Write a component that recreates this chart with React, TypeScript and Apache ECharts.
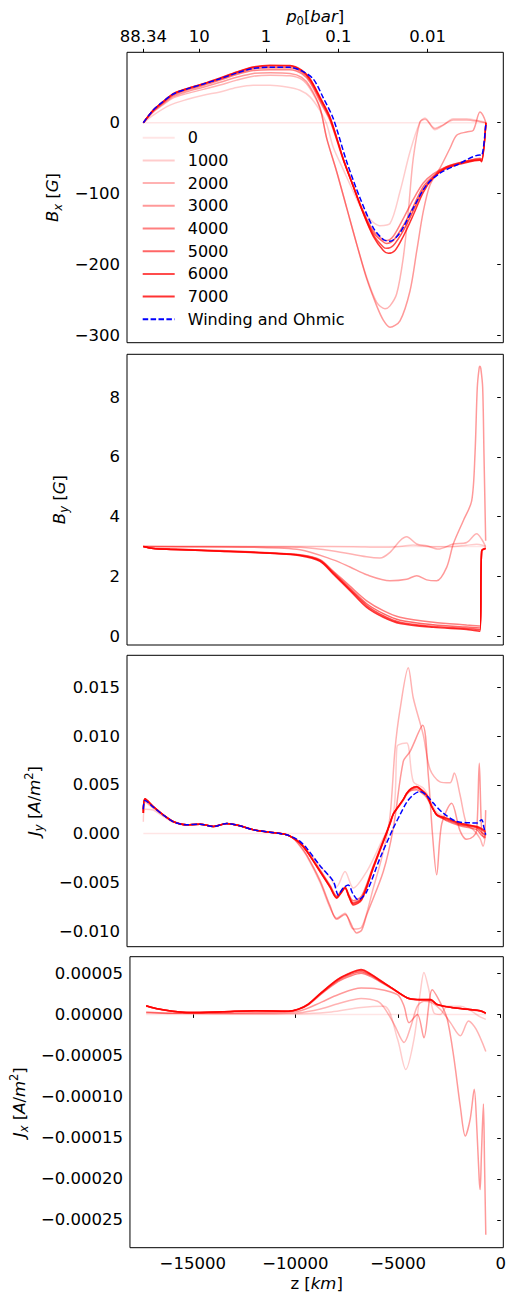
import React, { useEffect, useRef } from 'react';
import * as echarts from 'echarts';

const FONT = 'DejaVu Sans';
const FS = 16.5;

const RUNS = ['0', '1000', '2000', '3000', '4000', '5000', '6000', '7000'];
const RUN_ALPHA = [0.1, 0.2, 0.3, 0.4, 0.5, 0.6, 0.7, 0.8];
const OHMIC = 'Winding and Ohmic';

const X_MIN = -18060;
const X_MAX = 125;
const X_TICKS = [-15000, -10000, -5000, 0];
const P_TICK_Z = [-17270, -14565, -11342, -7849, -3529];
const P_TICK_LABELS = ['88.34', '10', '1', '0.1', '0.01'];

const Y1_TICKS = [-300, -200, -100, 0];
const Y2_TICKS = [0, 2, 4, 6, 8];
const Y3_TICKS = [-0.01, -0.005, 0, 0.005, 0.01, 0.015];
const Y4_TICKS = [-0.00025, -0.0002, -0.00015, -0.0001, -0.00005, 0, 0.00005];

// ---------- Panel 1: B_x [G] ----------
const BX_0 = [[-17270, 0], [-715, 0]];
const BX_1000 = [[-17270, 0], [-16788, 10.8], [-15981, 24.8], [-15174, 32.7], [-14372, 38.7], [-13565, 43.4], [-12758, 49.5], [-11956, 52.7], [-11149, 52.7], [-10342, 50.3], [-9700, 45.7], [-9216, 36.4], [-8733, 17], [-8409, -2], [-8090, -35], [-7607, -66], [-7124, -97], [-6641, -125], [-5834, -145], [-5351, -142], [-4867, -97], [-4384, -41], [-3901, 1], [-3660, 6.6], [-3177, -10], [-2777, -3.6], [-2292, 5.6], [-1645, 5.6], [-1002, 2.4], [-715, 0]];
const BX_2000 = [[-17270, 0], [-16788, 15], [-16305, 25.5], [-15821, 35], [-15174, 41], [-14372, 47], [-13565, 53], [-12758, 60], [-11956, 65.5], [-11149, 67], [-10182, 66], [-9617, 61], [-9216, 48], [-8733, 20], [-8409, -22], [-7926, -69], [-7443, -120], [-6960, -171], [-6476, -218], [-5993, -253], [-5592, -262], [-5351, -258], [-5027, -241], [-4708, -190], [-4466, -125], [-4225, -50], [-3901, 1], [-3660, 5], [-3177, -8], [-2777, -3], [-2292, 4], [-1645, 4], [-1002, 1.5], [-715, 0]];
const BX_3000 = [[-17270, 0], [-16788, 16], [-16305, 27], [-15821, 37], [-15174, 43.5], [-14372, 50], [-13565, 57], [-12758, 64], [-11956, 69.5], [-11149, 70.5], [-10182, 69.5], [-9617, 64], [-9216, 51], [-8733, 21], [-8409, -22], [-7926, -69], [-7443, -120], [-6960, -171], [-6476, -220], [-5993, -258], [-5674, -278], [-5351, -288], [-4867, -279], [-4384, -237], [-4060, -181], [-3742, -125], [-3418, -87.6], [-2936, -64], [-2451, -36], [-2128, -17.6], [-1645, -13], [-1325, -10.7], [-1002, 15], [-850, 10], [-715, 0]];
const BX_4000 = [[-17270, 0], [-16788, 17], [-16305, 28.5], [-15821, 39], [-15174, 46], [-14372, 52.5], [-13565, 60], [-12758, 68], [-11956, 73.5], [-11149, 74.7], [-10182, 74.5], [-9617, 69], [-9216, 57], [-8733, 30], [-8250, 3], [-7607, -53], [-7124, -90], [-6641, -125], [-6158, -152], [-5674, -165], [-5510, -166], [-5192, -160], [-4708, -135], [-4225, -108], [-3742, -85], [-3259, -72], [-2612, -62], [-1645, -54], [-1002, -50], [-920, -51], [-715, 0]];
const BX_5000 = [[-17270, 0], [-16788, 17.5], [-16305, 29], [-15821, 40], [-15174, 47], [-14372, 54], [-13565, 61.5], [-12758, 69.5], [-11956, 76], [-11149, 77.5], [-10182, 77.5], [-9617, 71.5], [-9216, 59.5], [-8733, 33], [-8250, 5], [-7607, -52], [-7124, -89], [-6641, -126], [-6158, -155], [-5674, -168], [-5510, -170], [-5192, -166], [-4708, -145], [-4225, -118], [-3742, -90], [-3259, -75], [-2612, -62], [-1645, -54], [-1002, -51], [-920, -52], [-715, 0]];
const BX_6000 = [[-17270, 0], [-16788, 18], [-16305, 30], [-15821, 41], [-15174, 48], [-14372, 55], [-13565, 62.5], [-12758, 71], [-11956, 78], [-11149, 80], [-10182, 80], [-9617, 73.5], [-9216, 61.5], [-8733, 35], [-8250, 7], [-7607, -51], [-7124, -89], [-6641, -127], [-6158, -158], [-5674, -175], [-5510, -177], [-5192, -173], [-4708, -152], [-4225, -124], [-3742, -94], [-3259, -77], [-2612, -63], [-1645, -55], [-1002, -52], [-920, -54], [-715, 0]];
const BX_7000 = [[-17270, 0], [-16788, 18], [-16305, 30], [-15821, 41], [-15174, 48], [-14372, 55], [-13565, 63], [-12758, 71.5], [-11956, 78.5], [-11149, 81], [-10182, 80.5], [-9617, 74], [-9216, 62], [-8733, 36], [-8250, 8], [-7607, -51], [-7124, -90], [-6641, -128], [-6158, -160], [-5674, -180], [-5430, -184], [-5109, -180], [-4708, -160], [-4225, -130], [-3742, -98], [-3259, -78], [-2612, -64], [-1645, -56], [-1002, -53], [-920, -55], [-715, 0]];
const BX_OHMIC = [[-17270, 0], [-16788, 18], [-16305, 30], [-15821, 40.5], [-15174, 47.5], [-14372, 54.5], [-13565, 62], [-12758, 70], [-11956, 76.5], [-11149, 78], [-10182, 78], [-9617, 73], [-9057, 61.5], [-8574, 35], [-8090, 5.6], [-7443, -55], [-6800, -106], [-6158, -148], [-5674, -164.5], [-5351, -167], [-4867, -155], [-4225, -120], [-3578, -87.6], [-2936, -71], [-2128, -59.6], [-1002, -45.6], [-920, -46], [-715, 0]];

// ---------- Panel 2: B_y [G] ----------
const BY_0 = [[-17270, 3], [-715, 3]];
const BY_1000 = [[-17270, 3], [-9700, 3], [-7124, 2.99], [-5834, 2.97], [-4867, 3.0], [-4226, 3.05], [-3578, 3.0], [-2451, 2.99], [-1645, 3.04], [-1161, 3.07], [-920, 3.05], [-727, 3.0]];
const BY_2000 = [[-17270, 3], [-12000, 2.99], [-9700, 2.97], [-8090, 2.85], [-6476, 2.65], [-5834, 2.61], [-5351, 2.8], [-4867, 3.19], [-4544, 3.32], [-4060, 3.08], [-3578, 3.02], [-3018, 2.91], [-2292, 3.08], [-1645, 3.13], [-1161, 3.42], [-920, 3.24], [-727, 2.99]];
const BY_3000 = [[-17270, 3], [-12000, 2.97], [-9700, 2.89], [-8090, 2.55], [-7284, 2.31], [-6476, 2.05], [-5351, 1.85], [-4544, 1.9], [-4060, 2.02], [-3578, 1.88], [-3096, 1.85], [-2612, 2.3], [-2292, 3.08], [-1808, 3.86], [-1404, 4.52], [-1243, 6.09], [-1132, 8.32], [-1040, 8.98], [-1002, 9.03], [-960, 8.95], [-872, 8.32], [-809, 6.09], [-727, 3.19]];
const BY_4000 = [[-17270, 3], [-16788, 2.94], [-15981, 2.92], [-13565, 2.86], [-11149, 2.79], [-9700, 2.72], [-8733, 2.56], [-8090, 2.17], [-7284, 1.67], [-6476, 1.18], [-5674, 0.85], [-4867, 0.63], [-3259, 0.46], [-1645, 0.37], [-1002, 0.34], [-920, 2.85], [-727, 2.95]];
const BY_5000 = [[-17270, 3], [-16788, 2.93], [-15981, 2.91], [-13565, 2.85], [-11149, 2.78], [-9700, 2.71], [-8733, 2.54], [-8090, 2.13], [-7284, 1.6], [-6476, 1.08], [-5674, 0.75], [-4867, 0.53], [-3259, 0.38], [-1645, 0.3], [-1002, 0.27], [-920, 2.85], [-727, 2.94]];
const BY_6000 = [[-17270, 3], [-16788, 2.93], [-15981, 2.9], [-13565, 2.84], [-11149, 2.77], [-9700, 2.7], [-8733, 2.52], [-8090, 2.1], [-7284, 1.56], [-6476, 1.02], [-5674, 0.68], [-4867, 0.46], [-3259, 0.32], [-1645, 0.25], [-1002, 0.21], [-920, 2.85], [-727, 2.93]];
const BY_7000 = [[-17270, 3], [-16788, 2.93], [-15981, 2.9], [-13565, 2.84], [-11149, 2.77], [-9700, 2.69], [-8733, 2.5], [-8090, 2.07], [-7284, 1.52], [-6476, 0.96], [-5674, 0.63], [-4867, 0.42], [-3259, 0.29], [-1645, 0.22], [-1002, 0.16], [-920, 2.85], [-727, 2.93]];

// ---------- Panel 3: J_y [A/m^2] ----------
const JY_0 = [[-17270, 0], [-715, 0]];
const JY_1000 = [[-17270, 0.0012], [-17189, 0.0025], [-16788, 0.0024], [-16305, 0.00175], [-15821, 0.00115], [-15174, 0.00085], [-14531, 0.00095], [-13889, 0.00072], [-13241, 0.001], [-12598, 0.00078], [-11956, 0.00038], [-11149, 0.00014], [-10342, -0.00013], [-10023, -0.00045], [-9700, -0.0009], [-9376, -0.0016], [-8733, -0.0033], [-8250, -0.0045], [-7926, -0.00544], [-7525, -0.0039], [-7124, -0.0056], [-6476, -0.0039], [-5834, -0.00116], [-5191, 0.00192], [-5020, 0.0088], [-4950, 0.0091], [-4544, 0.00928], [-4225, 0.00534], [-3742, 0.00466], [-3418, 0.0035], [-3096, 0.0022], [-2612, 0.0016], [-1969, 0.001], [-1161, 0.0006], [-920, 0.0003], [-727, -0.0003]];
const JY_2000 = [[-17270, 0.0025], [-17189, 0.0032], [-16788, 0.0026], [-16305, 0.0019], [-15821, 0.0012], [-15174, 0.0009], [-14531, 0.00095], [-13889, 0.00072], [-13241, 0.001], [-12598, 0.0008], [-11956, 0.0004], [-11149, 0.00014], [-10342, -0.00013], [-10023, -0.0005], [-9700, -0.0013], [-9376, -0.0023], [-8733, -0.005], [-8250, -0.0076], [-7926, -0.00869], [-7525, -0.00817], [-7124, -0.0098], [-6718, -0.0096], [-6158, -0.0056], [-5674, -0.00185], [-5351, 0.00175], [-5109, 0.0086], [-4867, 0.0127], [-4466, 0.017], [-4225, 0.0139], [-3742, 0.0101], [-3418, 0.0066], [-2936, 0.0053], [-2451, 0.0052], [-2243, 0.0062], [-1969, 0.004], [-1645, 0.0009], [-1325, 0.0004], [-1002, -0.0005], [-850, -0.0013], [-727, 0]];
const JY_3000 = [[-17270, 0.0023], [-17189, 0.0034], [-16788, 0.0027], [-16305, 0.0019], [-15821, 0.0012], [-15174, 0.0009], [-14531, 0.00095], [-13889, 0.00072], [-13241, 0.001], [-12598, 0.0008], [-11956, 0.0004], [-11149, 0.00014], [-10342, -0.00013], [-10023, -0.0005], [-9700, -0.0012], [-9376, -0.0022], [-8733, -0.0048], [-8250, -0.0074], [-7926, -0.0088], [-7525, -0.0083], [-6960, -0.0102], [-6718, -0.0099], [-6476, -0.00835], [-5674, -0.0039], [-5191, 0.00055], [-4708, 0.0074], [-4384, 0.0084], [-3771, 0.0111], [-3500, 0.006], [-3300, 0], [-3096, -0.00424], [-2850, 0.001], [-2371, 0.0031], [-1969, 0.0003], [-1645, -0.0006], [-1325, -0.0003], [-1161, 0.0003], [-1036, 0.0072], [-920, 0.0002], [-800, -0.0005], [-727, 0.0024]];
const JY_4000 = [[-17270, 0.0021], [-17189, 0.0035], [-16788, 0.00275], [-16305, 0.0019], [-15821, 0.00122], [-15174, 0.00089], [-14531, 0.00096], [-13889, 0.00072], [-13241, 0.00103], [-12598, 0.00079], [-11956, 0.00038], [-11149, 0.00014], [-10342, -0.00013], [-10023, -0.00045], [-9700, -0.0009], [-9376, -0.0017], [-8733, -0.0037], [-8250, -0.0053], [-7926, -0.0064], [-7718, -0.0059], [-7525, -0.0055], [-7332, -0.0063], [-7124, -0.0069], [-6718, -0.0064], [-6158, -0.0033], [-5510, 0.0002], [-5351, 0.0011], [-5191, 0.002], [-4950, 0.0027], [-4708, 0.0034], [-4544, 0.004], [-4336, 0.0044], [-4060, 0.0045], [-3901, 0.0043], [-3578, 0.0037], [-3336, 0.0027], [-3096, 0.002], [-2888, 0.0017], [-2612, 0.0013], [-1969, 0.0008], [-1161, 0.0004], [-920, -0.0002], [-727, -0.0004]];
const JY_5000 = [[-17270, 0.0021], [-17189, 0.00355], [-16788, 0.00276], [-16305, 0.00191], [-15821, 0.00123], [-15174, 0.00089], [-14531, 0.00096], [-13889, 0.00072], [-13241, 0.00103], [-12598, 0.00079], [-11956, 0.00038], [-11149, 0.00014], [-10342, -0.00013], [-10023, -0.00046], [-9700, -0.00095], [-9376, -0.0018], [-8733, -0.0038], [-8250, -0.0054], [-7926, -0.0065], [-7718, -0.006], [-7525, -0.0055], [-7332, -0.0064], [-7124, -0.0071], [-6718, -0.0066], [-6158, -0.0034], [-5510, 0.0001], [-5351, 0.0011], [-5191, 0.002], [-4950, 0.00275], [-4708, 0.0035], [-4544, 0.0041], [-4336, 0.0045], [-4060, 0.0047], [-3901, 0.0045], [-3578, 0.0039], [-3336, 0.0028], [-3096, 0.0019], [-2888, 0.0016], [-2612, 0.0014], [-1969, 0.0009], [-1161, 0.0006], [-920, 0.0001], [-727, -0.0002]];
const JY_6000 = [[-17270, 0.0021], [-17189, 0.00356], [-16788, 0.00277], [-16305, 0.00192], [-15821, 0.00123], [-15174, 0.00089], [-14531, 0.00096], [-13889, 0.00072], [-13241, 0.00103], [-12598, 0.00079], [-11956, 0.00038], [-11149, 0.00014], [-10342, -0.00013], [-10023, -0.00047], [-9700, -0.00098], [-9376, -0.0018], [-8733, -0.0039], [-8250, -0.0055], [-7926, -0.0066], [-7718, -0.0061], [-7525, -0.0056], [-7332, -0.0065], [-7124, -0.0072], [-6718, -0.0067], [-6158, -0.0035], [-5510, 0.0001], [-5351, 0.001], [-5191, 0.002], [-4950, 0.00277], [-4708, 0.0035], [-4544, 0.0041], [-4336, 0.0046], [-4060, 0.0048], [-3901, 0.0046], [-3578, 0.0039], [-3336, 0.0028], [-3096, 0.0019], [-2888, 0.0017], [-2612, 0.0015], [-1969, 0.001], [-1161, 0.0007], [-920, 0.0004], [-727, 0.0001]];
const JY_7000 = [[-17270, 0.0021], [-17189, 0.00356], [-16788, 0.00277], [-16305, 0.00192], [-15821, 0.00123], [-15174, 0.00089], [-14531, 0.00096], [-13889, 0.00072], [-13241, 0.00103], [-12598, 0.00079], [-11956, 0.00038], [-11149, 0.00014], [-10342, -0.00013], [-10023, -0.00047], [-9700, -0.00099], [-9376, -0.0018], [-8733, -0.0039], [-8250, -0.0055], [-7926, -0.00663], [-7718, -0.0061], [-7525, -0.0056], [-7332, -0.0065], [-7124, -0.00732], [-6718, -0.0068], [-6158, -0.00355], [-5510, 0.00004], [-5351, 0.001], [-5191, 0.002], [-4950, 0.00277], [-4708, 0.0035], [-4544, 0.00415], [-4336, 0.0046], [-4060, 0.00483], [-3901, 0.0046], [-3578, 0.00397], [-3336, 0.0028], [-3096, 0.00192], [-2888, 0.00175], [-2612, 0.00158], [-1969, 0.00107], [-1161, 0.00072], [-920, 0.0005], [-727, 0.00021]];
const JY_OHMIC = [[-17270, 0.0025], [-17189, 0.0034], [-16788, 0.0027], [-16305, 0.0019], [-15821, 0.0012], [-15174, 0.0009], [-14531, 0.00096], [-13889, 0.00072], [-13241, 0.00103], [-12598, 0.00079], [-11956, 0.00038], [-11149, 0.00014], [-10342, -0.00013], [-10023, -0.0004], [-9700, -0.0008], [-9376, -0.0015], [-8733, -0.0033], [-8090, -0.0049], [-7849, -0.0063], [-7621, -0.0056], [-7366, -0.00527], [-7139, -0.0062], [-6883, -0.0068], [-6476, -0.00596], [-5834, -0.00253], [-5191, 0.00055], [-4867, 0.00192], [-4544, 0.0032], [-4225, 0.00397], [-3901, 0.00431], [-3578, 0.0039], [-3259, 0.00312], [-2777, 0.00209], [-2128, 0.00123], [-1486, 0.0011], [-1161, 0.00107], [-920, 0.00141], [-809, 0.0006], [-727, -0.00013]];

// ---------- Panel 4: J_x [A/m^2] ----------
const JX_0 = [[-17270, 0], [-715, 0]];
const JX_1000 = [[-17270, 0.2e-5], [-12000, 0.05e-5], [-9376, 0.1e-5], [-8250, 0.3e-5], [-6800, 0.85e-5], [-5674, 1.0e-5], [-5027, -3.0e-5], [-4626, -6.7e-5], [-4225, -3.0e-5], [-3901, 3.0e-5], [-3742, 5.1e-5], [-3500, 3.0e-5], [-3259, 0.2e-5], [-2936, 0], [-2612, 1.0e-5], [-1969, 1.0e-5], [-1486, 0.5e-5], [-1002, -0.3e-5], [-727, -0.6e-5]];
const JX_2000 = [[-17270, 0.2e-5], [-15981, 0.1e-5], [-12000, 0.1e-5], [-9859, 0.2e-5], [-8733, 0.7e-5], [-7926, 1.3e-5], [-6800, 1.95e-5], [-6000, 1.6e-5], [-5674, 0.8e-5], [-5191, -1.2e-5], [-4708, -3.4e-5], [-4384, -1.5e-5], [-4060, 1.0e-5], [-3742, 1.6e-5], [-3418, 1.5e-5], [-2936, 0.6e-5], [-2451, -1.0e-5], [-1969, -2.6e-5], [-1568, -0.8e-5], [-1200, -1.8e-5], [-727, -4.5e-5]];
const JX_3000 = [[-17270, 0.3e-5], [-15981, 0.15e-5], [-12000, 0.2e-5], [-9859, 0.4e-5], [-8733, 1.5e-5], [-7926, 2.4e-5], [-6800, 3.2e-5], [-6000, 3.1e-5], [-5027, 2.4e-5], [-4708, 1.0e-5], [-4466, -1.0e-5], [-4060, 0], [-3742, -2.85e-5], [-3336, 3.0e-5], [-2936, 1.4e-5], [-2612, -0.5e-5], [-2292, -5.1e-5], [-1969, -11.2e-5], [-1727, -14.8e-5], [-1486, -12.7e-5], [-1291, -9.1e-5], [-1161, -14e-5], [-1050, -20e-5], [-1002, -21.3e-5], [-940, -17e-5], [-843, -10.9e-5], [-790, -18e-5], [-727, -26.8e-5]];
const JX_4000 = [[-17270, 1.0e-5], [-16788, 0.7e-5], [-15981, 0.38e-5], [-15174, 0.24e-5], [-13565, 0.32e-5], [-11956, 0.43e-5], [-10342, 0.4e-5], [-9859, 0.6e-5], [-9376, 1.15e-5], [-8733, 2.5e-5], [-7926, 4.0e-5], [-7284, 4.7e-5], [-6800, 5.0e-5], [-6317, 4.6e-5], [-5834, 3.9e-5], [-5351, 3.2e-5], [-4544, 2.0e-5], [-4060, 1.75e-5], [-3418, 1.7e-5], [-3096, 1.15e-5], [-2292, 0.8e-5], [-1486, 0.55e-5], [-1002, 0.4e-5], [-727, 0.1e-5]];
const JX_5000 = [[-17270, 1.05e-5], [-16788, 0.72e-5], [-15981, 0.4e-5], [-15174, 0.24e-5], [-13565, 0.32e-5], [-11956, 0.44e-5], [-10342, 0.4e-5], [-9859, 0.62e-5], [-9376, 1.2e-5], [-8733, 2.6e-5], [-7926, 4.15e-5], [-7284, 4.9e-5], [-6800, 5.2e-5], [-6317, 4.75e-5], [-5834, 4.0e-5], [-5351, 3.25e-5], [-4544, 2.0e-5], [-4060, 1.8e-5], [-3418, 1.75e-5], [-3096, 1.2e-5], [-2292, 0.8e-5], [-1486, 0.6e-5], [-1002, 0.45e-5], [-727, 0.15e-5]];
const JX_6000 = [[-17270, 1.05e-5], [-16788, 0.73e-5], [-15981, 0.4e-5], [-15174, 0.24e-5], [-13565, 0.32e-5], [-11956, 0.45e-5], [-10342, 0.4e-5], [-9859, 0.64e-5], [-9376, 1.24e-5], [-8733, 2.65e-5], [-7926, 4.25e-5], [-7284, 5.05e-5], [-6800, 5.38e-5], [-6317, 4.85e-5], [-5834, 4.05e-5], [-5351, 3.3e-5], [-4544, 2.0e-5], [-4060, 1.82e-5], [-3418, 1.8e-5], [-3096, 1.22e-5], [-2292, 0.8e-5], [-1486, 0.6e-5], [-1002, 0.45e-5], [-727, 0.16e-5]];
const JX_7000 = [[-17270, 1.05e-5], [-16788, 0.73e-5], [-15981, 0.4e-5], [-15174, 0.24e-5], [-13565, 0.32e-5], [-11956, 0.45e-5], [-10342, 0.4e-5], [-9859, 0.64e-5], [-9376, 1.25e-5], [-8733, 2.68e-5], [-7926, 4.29e-5], [-7284, 5.1e-5], [-6800, 5.45e-5], [-6317, 4.9e-5], [-5834, 4.1e-5], [-5351, 3.3e-5], [-4544, 2.0e-5], [-4060, 1.82e-5], [-3418, 1.8e-5], [-3096, 1.22e-5], [-2292, 0.8e-5], [-1486, 0.6e-5], [-1002, 0.45e-5], [-727, 0.16e-5]];

const PANELS = [
  { runs: [BX_0, BX_1000, BX_2000, BX_3000, BX_4000, BX_5000, BX_6000, BX_7000], ohmic: BX_OHMIC },
  { runs: [BY_0, BY_1000, BY_2000, BY_3000, BY_4000, BY_5000, BY_6000, BY_7000], ohmic: null },
  { runs: [JY_0, JY_1000, JY_2000, JY_3000, JY_4000, JY_5000, JY_6000, JY_7000], ohmic: JY_OHMIC },
  { runs: [JX_0, JX_1000, JX_2000, JX_3000, JX_4000, JX_5000, JX_6000, JX_7000], ohmic: null },
];

const GRIDS = [
  { top: 52.3, height: 290.4 },
  { top: 354.3, height: 290.7 },
  { top: 655.3, height: 291.4 },
  { top: 956.7, height: 291.0 },
];

const MINUS = '\u2212';
const fmt = (dec: number) => (v: number) => {
  const s = Math.abs(v).toFixed(dec);
  return v < -1e-12 ? MINUS + s : s;
};

const RICH = {
  i: { fontFamily: FONT, fontStyle: 'italic', fontSize: FS, lineHeight: 22, color: '#000' },
  s: { fontFamily: FONT, fontStyle: 'italic', fontSize: 11.5, lineHeight: 12, verticalAlign: 'bottom', color: '#000' },
  su: { fontFamily: FONT, fontSize: 11.5, lineHeight: 12, verticalAlign: 'bottom', color: '#000' },
  p: { fontFamily: FONT, fontSize: 11.5, lineHeight: 12, verticalAlign: 'top', color: '#000' },
};

const nameStyle = {
  fontFamily: FONT,
  fontSize: FS,
  color: '#000',
  lineHeight: 22,
  align: 'center',
  verticalAlign: 'middle',
  rich: RICH,
};

function yAxisOf(gridIndex: number, min: number, max: number, ticks: number[], f: (v: number) => string, name: string, nameGap: number) {
  return {
    type: 'value',
    gridIndex,
    min,
    max,
    axisLine: { show: false },
    splitLine: { show: false },
    axisTick: { show: true, length: 3.5, lineStyle: { color: '#000', width: 1 }, customValues: ticks },
    axisLabel: { customValues: ticks, formatter: f, color: '#000', fontFamily: FONT, fontSize: FS, margin: 7 },
    name,
    nameLocation: 'middle',
    nameGap,
    nameRotate: 90,
    nameTextStyle: nameStyle,
  };
}

export default function App() {
  const ref = useRef<HTMLDivElement>(null);
  useEffect(() => {
    if (!ref.current) return;
    const chart = echarts.init(ref.current, undefined, { renderer: 'svg' });

    const grid = GRIDS.map((g) => ({
      left: 127,
      width: 376.3,
      top: g.top,
      height: g.height,
      show: true,
      borderColor: '#000',
      borderWidth: 1,
      backgroundColor: 'transparent',
    }));

    const xAxis: any[] = [0, 1, 2, 3].map((i) => ({
      type: 'value',
      gridIndex: i,
      min: X_MIN,
      max: X_MAX,
      show: i === 3,
      axisLine: { show: false },
      splitLine: { show: false },
      axisTick: { show: true, length: 3.5, lineStyle: { color: '#000', width: 1 }, customValues: X_TICKS },
      axisLabel: { customValues: X_TICKS, formatter: fmt(0), color: '#000', fontFamily: FONT, fontSize: FS, margin: 7 },
      name: i === 3 ? 'z [{i|km}]' : '',
      nameLocation: 'middle',
      nameGap: 27.5,
      nameTextStyle: nameStyle,
    }));
    xAxis.push({
      type: 'value',
      gridIndex: 0,
      position: 'top',
      min: X_MIN,
      max: X_MAX,
      axisLine: { show: false },
      splitLine: { show: false },
      axisTick: { show: true, length: 3.5, lineStyle: { color: '#000', width: 1 }, customValues: P_TICK_Z },
      axisLabel: {
        customValues: P_TICK_Z,
        formatter: (v: number) => {
          let best = 0;
          for (let k = 0; k < P_TICK_Z.length; k++) if (Math.abs(P_TICK_Z[k] - v) < Math.abs(P_TICK_Z[best] - v)) best = k;
          return P_TICK_LABELS[best];
        },
        color: '#000',
        fontFamily: FONT,
        fontSize: FS,
        margin: 7,
      },
      name: '{i|p}{su|0}[{i|bar}]',
      nameLocation: 'middle',
      nameGap: 28,
      nameTextStyle: nameStyle,
    });

    const yAxis = [
      yAxisOf(0, -309.9, 99.2, Y1_TICKS, fmt(0), '{i|B}{s|x} [{i|G}]', 68),
      yAxisOf(1, -0.3, 9.43, Y2_TICKS, fmt(0), '{i|B}{s|y} [{i|G}]', 68),
      yAxisOf(2, -0.01161, 0.018283, Y3_TICKS, fmt(3), '{i|J}{s|y} [{i|A}/{i|m}{p|2}]', 93),
      yAxisOf(3, -0.0002837, 0.0000702, Y4_TICKS, fmt(5), '{i|J}{s|x} [{i|A}/{i|m}{p|2}]', 104),
    ];

    const series: any[] = [];
    PANELS.forEach((p, pi) => {
      p.runs.forEach((data, ri) => {
        series.push({
          type: 'line',
          name: RUNS[ri],
          xAxisIndex: pi,
          yAxisIndex: pi,
          data,
          symbol: 'none',
          showSymbol: false,
          smooth: 0.3,
          lineStyle: { width: 1.5, color: `rgba(255,0,0,${RUN_ALPHA[ri]})` },
          itemStyle: { color: `rgba(255,0,0,${RUN_ALPHA[ri]})` },
          z: 2,
        });
      });
      if (p.ohmic) {
        series.push({
          type: 'line',
          name: OHMIC,
          xAxisIndex: pi,
          yAxisIndex: pi,
          data: p.ohmic,
          symbol: 'none',
          showSymbol: false,
          smooth: 0.3,
          lineStyle: { width: 1.5, color: '#0000ff', type: [5.5, 2.4] },
          itemStyle: { color: '#0000ff' },
          z: 3,
        });
      }
    });

    chart.setOption({
      animation: false,
      backgroundColor: '#fff',
      grid,
      xAxis,
      yAxis,
      legend: {
        orient: 'vertical',
        left: 141.7,
        top: 129.7,
        padding: 0,
        itemWidth: 32,
        itemHeight: 14,
        itemGap: 6.7,
        selectedMode: false,
        itemStyle: { opacity: 0 },
        data: [...RUNS, OHMIC],
        textStyle: { fontFamily: FONT, fontSize: 16, color: '#000', lineHeight: 14, padding: [0, 0, 0, 8] },
      },
      series,
    });
    return () => chart.dispose();
  }, []);
  return <div ref={ref} style={{ position: 'absolute', left: 0, top: 0, width: 512, height: 1304 }} />;
}
